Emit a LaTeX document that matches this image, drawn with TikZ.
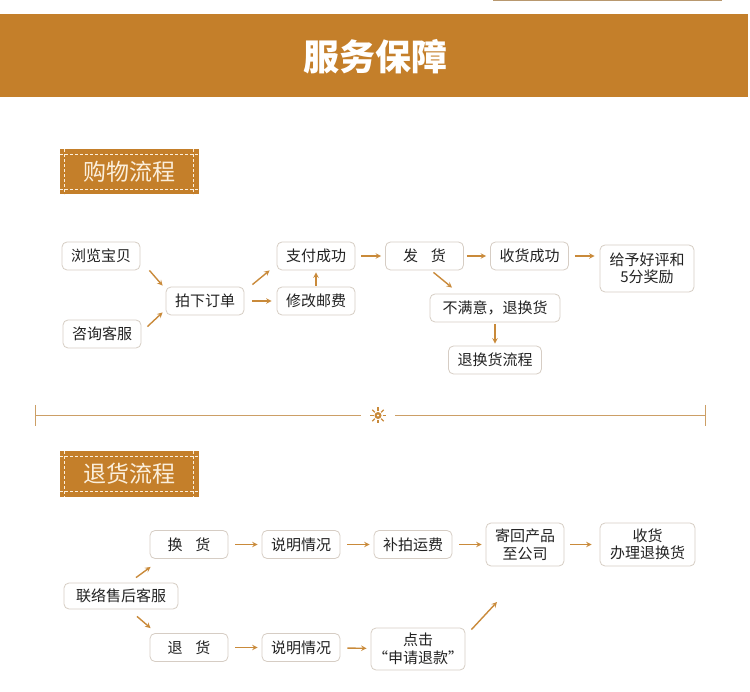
\documentclass[tikz,border=0pt]{standalone}
\usepackage{fontspec}
\setmainfont{Noto Sans CJK SC}
\definecolor{bandbrown}{HTML}{C47F2A}
\definecolor{arrowtan}{HTML}{C98A3A}
\definecolor{boxline}{HTML}{D6CDC4}
\definecolor{linetan}{HTML}{CC9F66}
\definecolor{toptan}{HTML}{B8986F}
\definecolor{textgray}{HTML}{222222}
\definecolor{labelcream}{HTML}{FBEFDC}
\begin{document}
\begin{tikzpicture}[x=1pt, y=-1pt,
    flowbox/.style={draw=boxline, line width=0.8pt, rounded corners=5pt, fill=white, text=textgray,
      font=\fontsize{15}{17.5}\selectfont, minimum width=78pt, minimum height=28pt, inner sep=2pt, align=center},
    flowarr/.style={-stealth, line width=1.4pt, arrowtan},
    tagbox/.style={fill=bandbrown, minimum width=139pt, minimum height=45pt, inner sep=0pt,
      text=labelcream, font=\fontsize{23}{26}\selectfont},
    tagdash/.style={labelcream, line width=0.7pt, dash pattern=on 3pt off 2pt}]
  \useasboundingbox (0,0) rectangle (750,692);

  \draw[toptan, line width=1.5pt] (493,0.75) -- (722,0.75);
  \fill[bandbrown] (0,14) rectangle (748,97);
  \node[text=white, font=\fontsize{36}{40}\selectfont\bfseries] (title) at (375,57) {服务保障};

  \node[tagbox] (shoptag) at (129.5,172) {购物流程};
  \node[tagbox] (returntag) at (129.5,474) {退货流程};
  \foreach \t in {shoptag,returntag} {
    \draw[tagdash] ([yshift=-5pt]\t.north west) -- ([yshift=-5pt]\t.north east);
    \draw[tagdash] ([yshift=5pt]\t.south west) -- ([yshift=5pt]\t.south east);
    \draw[tagdash] ([xshift=5pt]\t.north west) -- ([xshift=5pt]\t.south west);
    \draw[tagdash] ([xshift=-6pt]\t.north east) -- ([xshift=-6pt]\t.south east);
  }

  \node[flowbox] (browse) at (101,256) {浏览宝贝};
  \node[flowbox] (consult) at (102,334) {咨询客服};
  \node[flowbox] (order) at (205,301) {拍下订单};
  \node[flowbox] (pay) at (316,256) {支付成功};
  \node[flowbox] (postage) at (316,301) {修改邮费};
  \node[flowbox] (ship) at (424.5,256) {发\hspace{0.85em}货};
  \node[flowbox] (receive) at (529.5,256) {收货成功};
  \node[flowbox, minimum width=94pt, minimum height=47pt] (praise) at (647,268.5) {给予好评和\\5分奖励};
  \node[flowbox, minimum width=130pt] (unhappy) at (495,308) {不满意，退换货};
  \node[flowbox, minimum width=93pt] (process) at (495,360) {退换货流程};

  \draw[flowarr] ([xshift=9pt]browse.south east) -- ([xshift=-3pt,yshift=1pt]order.north west);
  \draw[flowarr] ([xshift=6pt,yshift=-7pt]consult.north east) -- ([xshift=-3pt,yshift=3pt]order.south west);
  \draw[flowarr] ([xshift=8pt,yshift=2pt]order.north east) -- ([xshift=-7pt]pay.south west);
  \draw[flowarr, shorten <=8pt, shorten >=5pt] (order) -- (postage);
  \draw[flowarr, shorten <=1pt, shorten >=2pt] (postage) -- (pay);
  \draw[flowarr, shorten <=6pt, shorten >=4pt] (pay) -- (ship);
  \draw[flowarr, shorten <=3pt, shorten >=4pt] (ship) -- (receive);
  \draw[flowarr, shorten <=6pt, shorten >=5pt] (receive.east) -- (receive.east -| praise.west);
  \draw[flowarr] ([xshift=9pt,yshift=-2pt]ship.south) -- ([xshift=-43pt,yshift=6pt]unhappy.north);
  \draw[flowarr, shorten <=2pt, shorten >=2pt] (unhappy) -- (process);

  \draw[linetan, line width=1pt] (35,405) -- (35,426) (705,405) -- (705,426);
  \coordinate (flower) at (378,415.5);
  \draw[linetan, line width=1pt] (35,415.5) -- ([xshift=-17pt]flower) ([xshift=17pt]flower) -- (705,415.5);
  \foreach \a in {0,45,...,315}
    \draw[arrowtan, line width=1.4pt] (flower) ++(\a:4.5pt) -- ++(\a:3.5pt);
  \fill[arrowtan] (flower) circle (3.5pt);
  \fill[white] (flower) circle (1.2pt);

  \node[flowbox] (exch) at (189,544.5) {换\hspace{0.85em}货};
  \node[flowbox] (explainA) at (301,544.5) {说明情况};
  \node[flowbox] (freight) at (413,544.5) {补拍运费};
  \node[flowbox, minimum height=43pt] (mailback) at (525,544.5) {寄回产品\\至公司};
  \node[flowbox, minimum width=95pt, minimum height=43pt] (done) at (647.5,544.5) {收货\\办理退换货};
  \node[flowbox, minimum width=114pt, minimum height=26pt] (contact) at (121,596) {联络售后客服};
  \node[flowbox] (refund) at (189,647.5) {退\hspace{0.85em}货};
  \node[flowbox] (explainB) at (301,647.5) {说明情况};
  \node[flowbox, minimum width=88pt, minimum height=42pt] (click) at (418,649) {点击\\“申请退款”};
  \coordinate (clickend) at (497,602);

  \draw[flowarr] ([xshift=15pt,yshift=5pt]contact.north) -- ([xshift=1pt,yshift=-8pt]exch.south west);
  \draw[flowarr] ([xshift=16pt,yshift=-7pt]contact.south) -- ([xshift=1pt,yshift=5pt]refund.north west);
  \draw[flowarr, shorten <=7pt, shorten >=4pt] (exch) -- (explainA);
  \draw[flowarr, shorten <=7pt, shorten >=4pt] (explainA) -- (freight);
  \draw[flowarr, shorten <=7pt, shorten >=4pt] (freight) -- (mailback);
  \draw[flowarr, shorten <=6pt, shorten >=8pt] (mailback) -- (done);
  \draw[flowarr, shorten <=7pt, shorten >=4pt] (refund) -- (explainB);
  \draw[flowarr, shorten <=7pt, shorten >=4pt] (explainB) -- (click);
  \draw[flowarr] ([xshift=6pt,yshift=-2pt]click.north east) -- (clickend);
\end{tikzpicture}
\end{document}
